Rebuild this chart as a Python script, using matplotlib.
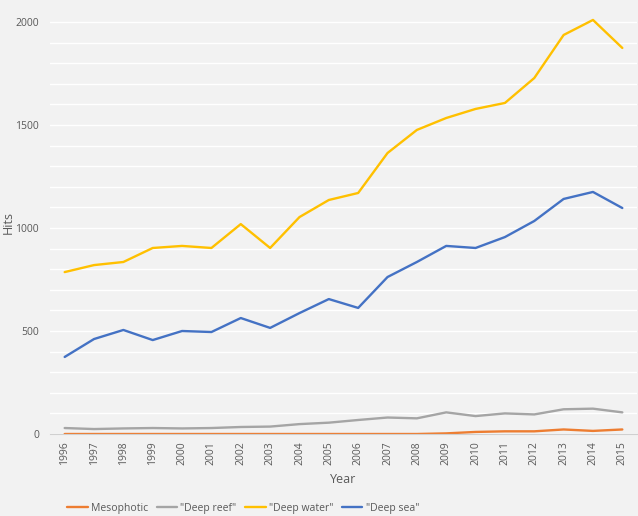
import matplotlib
matplotlib.use("Agg")
import matplotlib.pyplot as plt
import numpy as np

years = list(range(1996, 2016))
mesophotic = [0, 0, 0, 0, 0, 0, 0, 0, 0, 0, 0, 0, 0, 3, 10, 13, 13, 22, 15, 22]
deep_reef = [29, 24, 27, 29, 27, 29, 34, 36, 48, 55, 68, 80, 76, 105, 87, 100, 95, 120, 123, 105]
deep_water = [786, 820, 835, 903, 913, 903, 1019, 903, 1053, 1136, 1170, 1364, 1476, 1534, 1578, 1607, 1728, 1937, 2010, 1874]
deep_sea = [374, 461, 505, 456, 500, 495, 563, 515, 587, 655, 612, 762, 835, 913, 903, 956, 1034, 1141, 1175, 1097]

series = [
    ("Mesophotic", mesophotic, "#ED7D31"),
    ('"Deep reef"', deep_reef, "#A5A5A5"),
    ('"Deep water"', deep_water, "#FFC000"),
    ('"Deep sea"', deep_sea, "#4472C4"),
]

plt.rcParams['font.family'] = ['Open Sans', 'DejaVu Sans']
bg = "#f2f2f2"
fig = plt.figure(figsize=(6.38, 5.16), dpi=100, facecolor=bg)
ax = fig.add_axes([50/638, 1-434/516, 587/638, 429/516])
ax.set_facecolor(bg)

for name, vals, col in series:
    ax.plot(years, vals, color=col, lw=1.7, label=name, solid_capstyle='round')

ax.set_xlim(1995.5, 2015.5)
ax.set_ylim(0, (434-5)/0.206)
ax.set_yticks([0, 500, 1000, 1500, 2000])
ax.set_yticks(np.arange(100, 2100, 100), minor=True)
ax.set_xticks(years)
ax.set_xticklabels([str(y) for y in years], rotation=90)
ax.grid(True, which='both', axis='y', color='white', lw=1.0)
ax.set_axisbelow(True)
for s in ['top', 'right', 'left']:
    ax.spines[s].set_visible(False)
ax.spines['bottom'].set_color('#d0d0d0')
ax.tick_params(axis='both', which='both', length=0, labelsize=7.5, colors='#595959')
ax.tick_params(axis='x', pad=5)
ax.tick_params(axis='y', pad=8)
ax.set_xlabel("Year", fontsize=9, color='#595959', labelpad=6)
ax.set_ylabel("Hits", fontsize=9, color='#595959')
ax.yaxis.set_label_coords(-35/587, 0.494)

leg = fig.legend(loc='center', bbox_to_anchor=(243/638, 1-508/516), ncol=4, frameon=False,
                 fontsize=7.5, handlelength=2.0, handletextpad=0.3, columnspacing=0.8)
for t in leg.get_texts():
    t.set_color('#595959')

fig.savefig("out.png", dpi=100, facecolor=bg)
